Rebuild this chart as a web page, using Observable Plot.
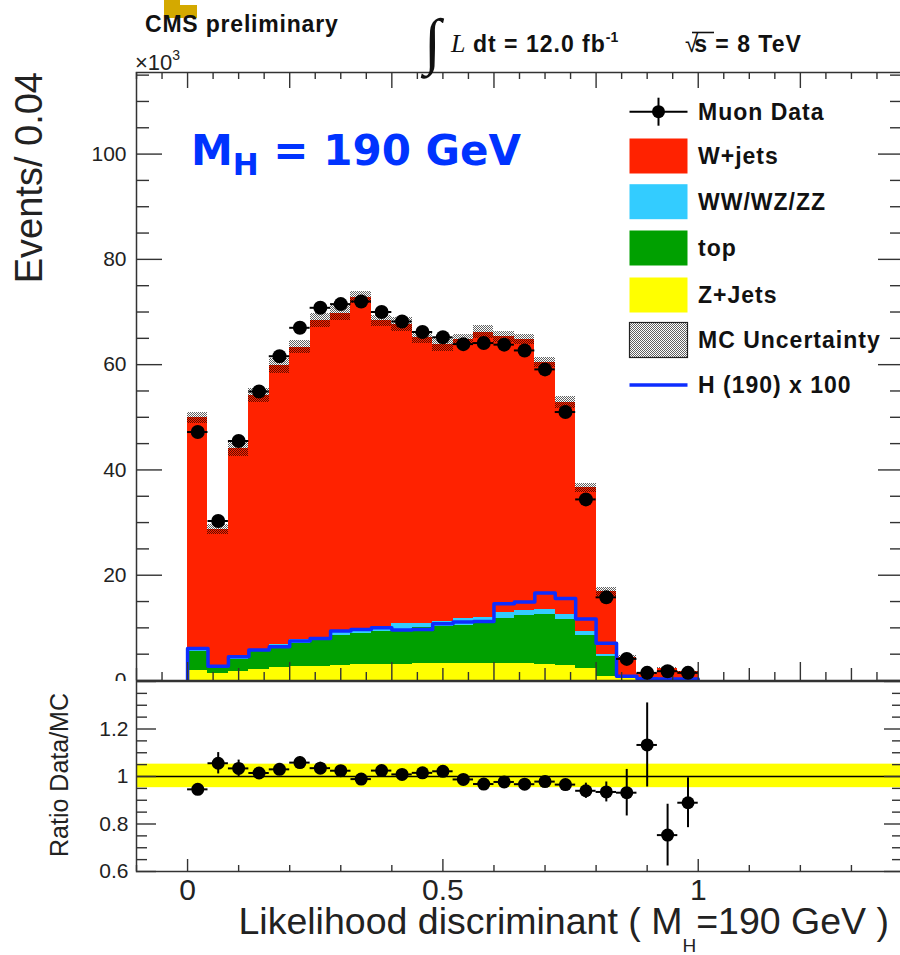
<!DOCTYPE html>
<html>
<head>
<meta charset="utf-8">
<script src="https://cdn.jsdelivr.net/npm/d3@7"></script>
<script src="https://cdn.jsdelivr.net/npm/@observablehq/plot@0.6"></script>
<style>
  html, body { margin: 0; padding: 0; background: #fff; }
  body { width: 900px; height: 955px; overflow: hidden; position: relative; font-family: "Liberation Sans", Arial, sans-serif; }
  #upper { position: absolute; left: 0; top: 0; }
  #lower { position: absolute; left: 0; top: 681px; }
  #overlay { position: absolute; left: 0; top: 0; pointer-events: none; }
</style>
</head>
<body>
<svg width="0" height="0" style="position:absolute">
  <defs>
    <pattern id="hatch" width="2" height="2" patternUnits="userSpaceOnUse">
      <rect x="0" y="0" width="1" height="1" fill="#000" fill-opacity="0.62"/>
      <rect x="1" y="1" width="1" height="1" fill="#000" fill-opacity="0.62"/>
    </pattern>
  </defs>
</svg>
<div id="upper"></div>
<div id="lower"></div>
<svg id="overlay" width="900" height="955"></svg>
<script>
// ---------- data (events in units of 10^3, bins of width 0.04) ----------
const binEdges = [0, 0.04, 0.08, 0.12, 0.16, 0.2, 0.24, 0.28, 0.32, 0.36, 0.4, 0.44, 0.48,
  0.52, 0.56, 0.6, 0.64, 0.68, 0.72, 0.76, 0.8, 0.84, 0.88, 0.92, 0.96, 1.0];
const muonData  = [47.2, 30.3, 45.5, 54.9, 61.6, 67.0, 70.8, 71.5, 72.0, 70.0, 68.2, 66.2, 65.2,
  63.9, 64.1, 63.8, 62.7, 59.1, 51.0, 34.4, 15.8, 4.1, 1.45, 1.77, 1.45];
const zJets     = [1.95, 1.3, 1.65, 2.1, 2.4, 2.6, 2.7, 2.85, 2.95, 3.05, 3.1, 3.15, 3.2,
  3.25, 3.3, 3.3, 3.25, 3.05, 2.85, 2.3, 0.8, 0.4, 0.08, 0.05, 0.05];
const topQuark  = [3.65, 1.1, 2.35, 3.5, 4.1, 4.5, 4.9, 5.65, 5.95, 6.35, 6.6, 6.85, 7.1,
  7.25, 7.5, 8.4, 9.05, 9.45, 8.75, 6.2, 3.7, 0.3, 0.04, 0.05, 0.05];
const diboson   = [0.3, 0.2, 0.3, 0.3, 0.4, 0.6, 0.6, 0.7, 0.8, 0.9, 1.1, 0.9, 1.0,
  1.2, 1.2, 1.3, 1.0, 1.0, 0.9, 0.8, 0.5, 0.1, 0.03, 0.02, 0.02];
const wJets     = [44.0, 26.1, 39.7, 48.2, 52.9, 55.6, 60.2, 60.6, 63.1, 58.0, 56.8, 54.3, 52.5,
  53.0, 54.2, 52.3, 51.5, 46.9, 40.3, 27.3, 11.9, 3.6, 1.13, 2.23, 1.51];
const mcUnc     = [1.1, 0.9, 1.4, 1.3, 1.4, 1.2, 1.4, 1.4, 1.1, 1.0, 1.3, 1.1, 1.3,
  1.0, 1.2, 1.0, 1.0, 0.95, 1.1, 0.85, 0.85, 0.3, 0.1, 0.12, 0.1];
const higgsX100 = [6.1, 2.7, 4.5, 5.8, 6.4, 7.5, 8.0, 9.4, 9.7, 10.0, 9.6, 9.7, 10.8,
  11.1, 11.2, 14.6, 14.9, 16.6, 15.6, 11.7, 7.1, 0.8, 0.35, 0.3, 0.3];
const ratioErr  = [0.02, 0.045, 0.035, 0.02, 0.02, 0.025, 0.025, 0.02, 0.02, 0.02, 0.02, 0.02, 0.02,
  0.02, 0.02, 0.02, 0.02, 0.02, 0.02, 0.032, 0.042, 0.098, 0.177, 0.13, 0.105];
const ratioBand = [0.953, 1.052];

const yTicksUpper = [0, 20, 40, 60, 80, 100];
const yTicksRatio = [0.6, 0.8, 1, 1.2];
const xTickLabels = [0, 0.5, 1];

const legendLabels = ["Muon Data", "W+jets", "WW/WZ/ZZ", "top", "Z+Jets", "MC Uncertainty", "H (190) x 100"];
const COLORS = { w: "#ff2200", vv: "#33ccff", top: "#00a000", z: "#ffff00", h: "#0d2dff" };

// ---------- derived table ----------
const bins = muonData.map((d, i) => {
  const lo = binEdges[i], hi = binEdges[i + 1];
  const z = zJets[i], t = z + topQuark[i], v = t + diboson[i], total = v + wJets[i];
  return { lo, hi, mid: (lo + hi) / 2, data: d, z, t, v, total, unc: mcUnc[i],
           ratio: d / total, rerr: ratioErr[i] };
});
const higgsPts = [{ x: binEdges[0], y: 0 }]
  .concat(bins.map((b, i) => ({ x: b.lo, y: higgsX100[i] })))
  .concat([{ x: binEdges[binEdges.length - 1], y: 0 }]);

// ---------- geometry ----------
const W = 903, FL = 136, FR = 902, FW = FR - FL;
const UT = 72, UH = 682, UB = 2, UFH = UH - UT - UB;     // upper frame height
const LH = 274, LB = 84, LFH = LH - LB;                  // lower frame height
const font = "'Liberation Sans', Arial, sans-serif";
const near = (v, s) => Math.abs(Math.round(v / s) * s - v) < 1e-6;
const rng = (a, b, s) => d3.range(Math.round((b - a) / s) + 1).map(i => +(a + i * s).toFixed(4));

const xT = rng(-0.1, 1.4, 0.05);
const ink = "#333";

function xTicksBottom(frameH, spec) {
  return spec.map(([vals, len]) => Plot.tickX(vals, { x: d => d, insetTop: frameH - len, stroke: ink, strokeWidth: 1.4 }));
}
function xTicksTop(frameH, spec) {
  return spec.map(([vals, len]) => Plot.tickX(vals, { x: d => d, insetBottom: frameH - len, stroke: ink, strokeWidth: 1.4 }));
}
function yTicks(spec) {
  const m = [];
  for (const [vals, lenL, lenR] of spec) {
    m.push(Plot.tickY(vals, { y: d => d, insetRight: FW - lenL, stroke: ink, strokeWidth: 1.4 }));
    m.push(Plot.tickY(vals, { y: d => d, insetLeft: FW - lenR, stroke: ink, strokeWidth: 1.4 }));
  }
  return m;
}

const rectOpts = { x1: "lo", x2: "hi", shapeRendering: "crispEdges" };

const upper = Plot.plot({
  width: W, height: UH,
  marginLeft: FL, marginRight: W - FR, marginTop: UT, marginBottom: UB,
  style: { fontFamily: font, maxWidth: "none", background: "white", overflow: "hidden" },
  x: { domain: [-0.1, 1.4], axis: null },
  y: { domain: [0, 115.5], axis: null },
  marks: [
    Plot.rect(bins, { ...rectOpts, y1: 0, y2: "z", fill: COLORS.z }),
    Plot.rect(bins, { ...rectOpts, y1: "z", y2: "t", fill: COLORS.top }),
    Plot.rect(bins, { ...rectOpts, y1: "t", y2: "v", fill: COLORS.vv }),
    Plot.rect(bins, { ...rectOpts, y1: "v", y2: "total", fill: COLORS.w }),
    Plot.rect(bins, { ...rectOpts, y1: d => d.total - d.unc, y2: d => d.total + d.unc, fill: "url(#hatch)" }),
    Plot.line(higgsPts, { x: "x", y: "y", curve: "step-after", stroke: COLORS.h, strokeWidth: 3.5 }),
    ...xTicksBottom(UFH, [
      [xT.filter(v => !near(v, 0.1)), 8],
      [xT.filter(v => near(v, 0.1) && !near(v, 0.2)), 12],
      [xT.filter(v => near(v, 0.2)), 18]]),
    ...xTicksTop(UFH, [
      [xT.filter(v => !near(v, 0.2)), 7],
      [xT.filter(v => near(v, 0.2)), 16]]),
    ...yTicks([
      [rng(0, 115, 5).filter(v => !near(v, 20)), 13, 12],
      [rng(0, 100, 20), 26, 24]]),
    Plot.frame({ stroke: ink, strokeWidth: 1.5 }),
    Plot.ruleY(bins, { x1: "lo", x2: "hi", y: "data", stroke: "black", strokeWidth: 2 }),
    Plot.dot(bins, { x: "mid", y: "data", r: 7, fill: "black", stroke: "none" }),
    Plot.axisY(yTicksUpper, { tickSize: 0, tickPadding: 10, fontSize: 21, label: null, color: "#222" })
  ]
});
document.getElementById("upper").append(upper);

const lower = Plot.plot({
  width: W, height: LH,
  marginLeft: FL, marginRight: W - FR, marginTop: 0, marginBottom: LB,
  style: { fontFamily: font, maxWidth: "none", background: "white", overflow: "visible" },
  x: { domain: [-0.1, 1.4], axis: null },
  y: { domain: [0.6, 1.4], axis: null },
  marks: [
    Plot.rect([ratioBand], { x1: -0.1, x2: 1.4, y1: d => d[0], y2: d => d[1], fill: "#ffff00" }),
    Plot.ruleY([1], { stroke: "black", strokeWidth: 1.5 }),
    ...xTicksBottom(LFH, [
      [rng(-0.1, 1.4, 0.1).filter(v => !near(v, 0.5)), 6],
      [rng(0, 1.0, 0.5), 12]]),
    ...yTicks([
      [rng(0.6, 1.4, 0.05).filter(v => !near(v, 0.2)), 11, 10],
      [rng(0.6, 1.4, 0.2), 20, 18]]),
    Plot.frame({ stroke: ink, strokeWidth: 1.5 }),
    Plot.ruleX(bins, { x: "mid", y1: d => d.ratio - d.rerr, y2: d => d.ratio + d.rerr, stroke: "black", strokeWidth: 2 }),
    Plot.ruleY(bins, { x1: "lo", x2: "hi", y: "ratio", stroke: "black", strokeWidth: 2 }),
    Plot.dot(bins, { x: "mid", y: "ratio", r: 6.5, fill: "black", stroke: "none" }),
    Plot.axisY(yTicksRatio, { tickSize: 0, tickPadding: 8, fontSize: 21, label: null, color: "#222", tickFormat: d3.format("~g") }),
    Plot.axisX(xTickLabels, { tickSize: 0, tickPadding: 7, fontSize: 30, label: null, color: "#222", tickFormat: d3.format("~g") })
  ]
});
document.getElementById("lower").append(lower);

// ---------- annotations & legend ----------
const ov = d3.select("#overlay");
// gold slide decoration
ov.append("rect").attr("x", 164).attr("y", 0).attr("width", 16).attr("height", 18).attr("fill", "#d4a900");
ov.append("rect").attr("x", 180).attr("y", 5).attr("width", 17).attr("height", 13).attr("fill", "#d4a900");

function txt(x, y, s, opts = {}) {
  const t = ov.append("text").attr("x", x).attr("y", y).text(s)
    .attr("font-family", opts.family || font)
    .attr("font-size", opts.size || 23)
    .attr("font-weight", opts.weight || "normal")
    .attr("fill", opts.fill || "#111");
  if (opts.anchor) t.attr("text-anchor", opts.anchor);
  if (opts.ls) t.attr("letter-spacing", opts.ls);
  if (opts.style) t.attr("font-style", opts.style);
  if (opts.transform) t.attr("transform", opts.transform);
  return t;
}

txt(145, 32, "CMS preliminary", { weight: "bold", size: 23, ls: 0.8 });
// x10^3
const e3 = txt(135, 70, "×10", { size: 22, fill: "#222" });
e3.append("tspan").attr("font-size", 14).attr("dy", -10).text("3");
// integral luminosity
txt(424, 62, "∫", { family: "'Liberation Serif', 'Times New Roman', serif", size: 62 });
txt(451, 52, "L", { family: "'Liberation Serif', 'Times New Roman', serif", size: 26, style: "italic" });
const lum = txt(473, 52, "dt = 12.0 fb", { weight: "bold", size: 23, ls: 1 });
lum.append("tspan").attr("font-size", 14).attr("dy", -10).attr("letter-spacing", 0).text("-1");
// sqrt(s)
const rs = txt(685, 52, "", { size: 24 });
rs.append("tspan").text("√");
rs.append("tspan").attr("font-weight", "bold").attr("font-size", 23).attr("letter-spacing", 1).attr("dx", -4).text("s = 8 TeV");
ov.append("line").attr("x1", 692).attr("x2", 714).attr("y1", 32.5).attr("y2", 32.5).attr("stroke", "#111").attr("stroke-width", 1.6);

// M_H = 190 GeV
const mh = txt(191, 165, "M", { family: "'DejaVu Sans', Verdana, sans-serif", weight: "bold", size: 42, fill: "#0033ff" });
mh.append("tspan").attr("font-size", 31).attr("dy", 10).text("H");
mh.append("tspan").attr("font-size", 42).attr("dy", -10).text(" = 190 GeV");

// axis titles
txt(42, 72, "Events/ 0.04", { size: 38, anchor: "end", transform: "rotate(-90 42 72)", fill: "#222" });
txt(68, 775, "Ratio Data/MC", { size: 25, anchor: "middle", transform: "rotate(-90 68 775)", fill: "#222" });
const xt = txt(889, 934, "Likelihood discriminant ( M", { size: 37.5, anchor: "end", fill: "#222" });
xt.append("tspan").attr("font-size", 19).attr("dy", 18).text("H");
xt.append("tspan").attr("dy", -18).text("=190 GeV )");

// legend
const rowY = [111.7, 156, 201.7, 248, 295, 340, 385];
const sx = 629.5, sw = 58, sh = 35;
const swatchFill = [null, COLORS.w, COLORS.vv, COLORS.top, COLORS.z, "url(#hatch)", null];
legendLabels.forEach((lab, i) => {
  const cy = rowY[i];
  if (i === 0) {
    ov.append("line").attr("x1", sx).attr("x2", sx + sw).attr("y1", cy).attr("y2", cy).attr("stroke", "#000").attr("stroke-width", 2);
    ov.append("line").attr("x1", sx + sw / 2).attr("x2", sx + sw / 2).attr("y1", cy - 14).attr("y2", cy + 14).attr("stroke", "#000").attr("stroke-width", 2);
    ov.append("circle").attr("cx", sx + sw / 2).attr("cy", cy).attr("r", 6.5).attr("fill", "#000");
  } else if (i === 6) {
    ov.append("line").attr("x1", sx).attr("x2", sx + sw).attr("y1", cy).attr("y2", cy).attr("stroke", COLORS.h).attr("stroke-width", 3.5);
  } else {
    const r = ov.append("rect").attr("x", sx).attr("y", cy - sh / 2).attr("width", sw).attr("height", sh).attr("fill", swatchFill[i]);
    if (i === 5) r.attr("stroke", "#222").attr("stroke-width", 1.2);
  }
  txt(698, cy + 8, lab, { weight: "bold", size: 23, ls: 1 });
});
</script>
</body>
</html>
